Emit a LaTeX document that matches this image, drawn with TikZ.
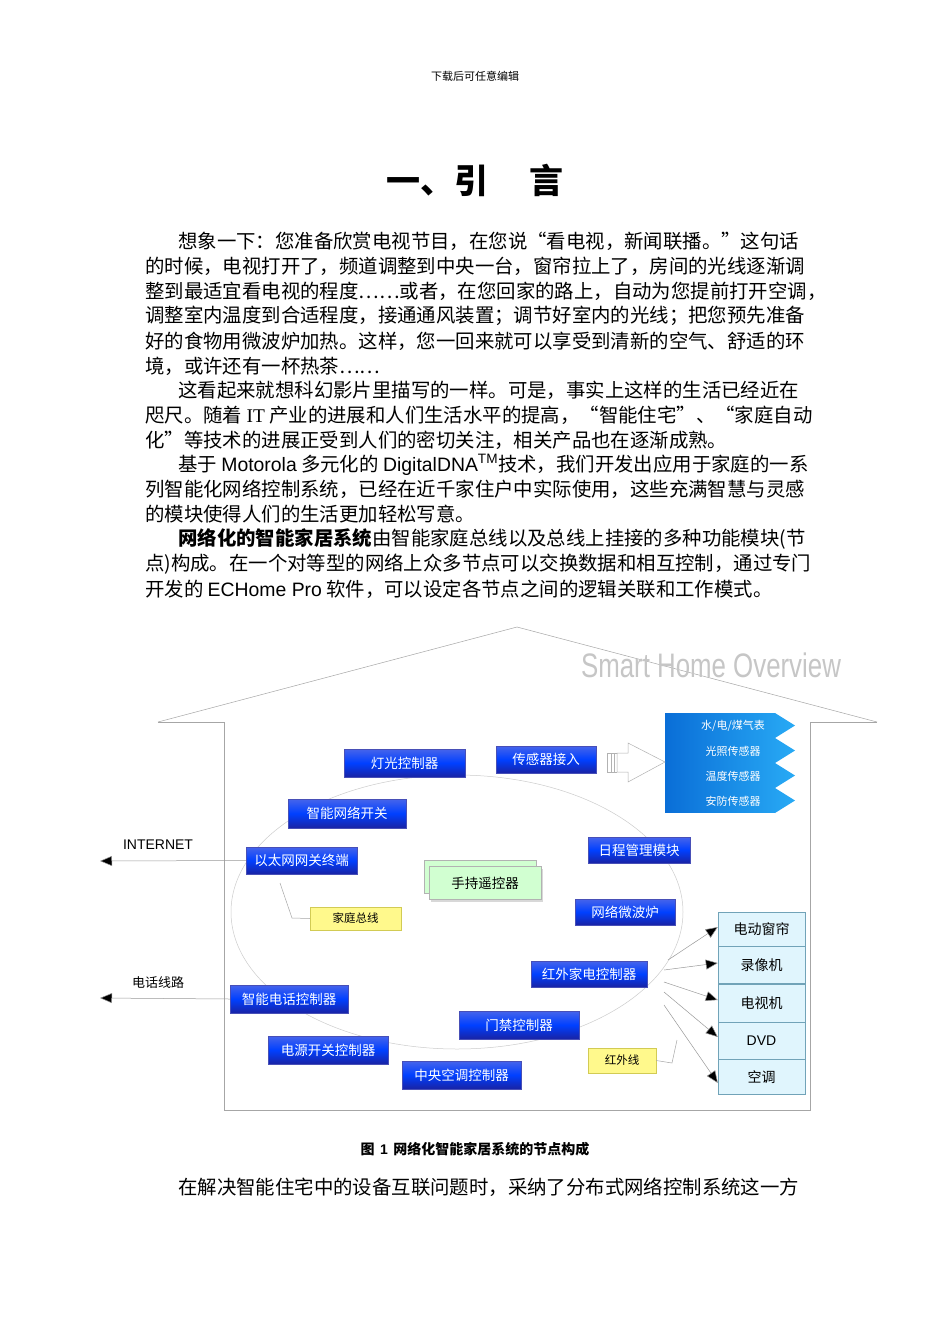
\documentclass[tikz,border=0pt]{standalone}
\usepackage{fontspec}
\setmainfont{Noto Sans CJK SC}
\newfontfamily\lat{Liberation Sans}
\newfontfamily\latserif{Liberation Serif}
\usetikzlibrary{shapes.geometric,arrows.meta,shadows}
\definecolor{bluetop}{RGB}{70,100,235}
\definecolor{bluebot}{RGB}{25,35,165}
\definecolor{sensA}{RGB}{10,110,215}
\definecolor{sensB}{RGB}{40,170,245}
\tikzset{
  bx/.style={rectangle,top color=bluetop,bottom color=bluebot,middle color=blue!75!cyan,text=white,font=\fontsize{13.5}{14}\selectfont,inner sep=0pt,draw=bluebot!80,line width=0.3pt},
  yel/.style={rectangle,fill=yellow!45,draw=yellow!60!gray,font=\fontsize{11.5}{12}\selectfont,inner sep=0pt},
  cell/.style={rectangle,fill=cyan!12,draw=cyan!40!gray,minimum width=87pt,font=\fontsize{14}{15}\selectfont,inner sep=0pt},
  body/.style={anchor=west,font=\fontsize{19.4}{20}\selectfont,inner sep=0pt},
  thin/.style={draw=gray!70,line width=0.5pt},
  arr/.style={draw=gray!80,line width=0.5pt,-{Triangle[length=12pt,width=10pt,fill=black]}},
}
\begin{document}
\begin{tikzpicture}[x=1pt,y=-1pt]
\useasboundingbox (0,0) rectangle (950,1344);
\fill[white] (0,0) rectangle (950,1344);
\node (hdr) at (475,76) {\fontsize{11}{12}\selectfont 下载后可任意编辑};
\node (ttl) at (475,180) {\fontsize{34}{36}\selectfont\bfseries 一、引\hspace{1.2em}言};
\node[body] (l1) at (178,241) {想象一下：您准备欣赏电视节目，在您说“看电视，新闻联播。”这句话};
\node[body] (l2) at (145,266) {的时候，电视打开了，频道调整到中央一台，窗帘拉上了，房间的光线逐渐调};
\node[body] (l3) at (145,291) {整到最适宜看电视的程度……或者，在您回家的路上，自动为您提前打开空调，};
\node[body] (l4) at (145,316) {调整室内温度到合适程度，接通通风装置；调节好室内的光线；把您预先准备};
\node[body] (l5) at (145,341) {好的食物用微波炉加热。这样，您一回来就可以享受到清新的空气、舒适的环};
\node[body] (l6) at (145,366) {境，或许还有一杯热茶……};
\node[body] (l7) at (178,390) {这看起来就想科幻影片里描写的一样。可是，事实上这样的生活已经近在};
\node[body] (l8) at (145,415) {咫尺。随着 {\latserif IT} 产业的进展和人们生活水平的提高，“智能住宅”、“家庭自动};
\node[body] (l9) at (145,440) {化”等技术的进展正受到人们的密切关注，相关产品也在逐渐成熟。};
\node[body] (l10) at (178,465) {基于 {\lat Motorola} 多元化的 {\lat DigitalDNA\textsuperscript{TM}}技术，我们开发出应用于家庭的一系};
\node[body] (l11) at (145,489) {列智能化网络控制系统，已经在近千家住户中实际使用，这些充满智慧与灵感};
\node[body] (l12) at (145,514) {的模块使得人们的生活更加轻松写意。};
\node[body] (l13) at (178,539) {\bfseries 网络化的智能家居系统\mdseries 由智能家庭总线以及总线上挂接的多种功能模块(节};
\node[body] (l14) at (145,564) {点)构成。在一个对等型的网络上众多节点可以交换数据和相互控制，通过专门};
\node[body] (l15) at (145,589) {开发的 {\lat ECHome Pro} 软件，可以设定各节点之间的逻辑关联和工作模式。};

% house
\draw[thin] (158,722) -- (517,627) -- (877,722);
\draw[thin] (158,722) -- (224,722) -- (224,1110) -- (810,1110) -- (810,722) -- (877,722);
\node[text=gray!45,font=\lat\fontsize{34}{34}\selectfont,xscale=0.76] (sho) at (711,665) {Smart Home Overview};

% bus ellipse
\draw[draw=gray!40,line width=0.5pt] (457,912) ellipse [x radius=226, y radius=137];

% sensors
\foreach \y/\t in {713/{水/电/煤气表},738/光照传感器,763/温度传感器,788/安防传感器}{
  \shade[left color=sensA,right color=sensB] (665,\y) -- (775,\y) -- (795,\y+12.5) -- (775,\y+25) -- (665,\y+25) -- cycle;
  \draw[white,line width=0.4pt] (665,\y+25) -- (775,\y+25);
  \node[text=white,font=\fontsize{11}{11}\selectfont] at (733,\y+13) {\t};
}
% hollow arrow
\draw[draw=gray!60,line width=0.5pt,fill=white] (617,753) -- (628,753) -- (628,743) -- (665,762) -- (628,782) -- (628,772) -- (617,772) -- cycle;
\draw[draw=gray!60,line width=0.5pt] (607,753) -- (607,772) (611,753) -- (611,772) (614,753)--(614,772);
\draw[draw=gray!60,line width=0.5pt] (607,753) -- (617,753) (607,772) -- (617,772);

% blue nodes
\node[bx,minimum width=121pt,minimum height=28pt] (dg) at (404.5,763) {灯光控制器};
\node[bx,minimum width=100pt,minimum height=27pt] (cg) at (546,759.5) {传感器接入};
\node[bx,minimum width=118pt,minimum height=29pt] (zn) at (347,813.5) {智能网络开关};
\node[bx,minimum width=111pt,minimum height=27pt] (yt) at (301.5,860.5) {以太网网关终端};
\node[bx,minimum width=102pt,minimum height=26pt] (rc) at (639,850) {日程管理模块};
\node[bx,minimum width=100pt,minimum height=26pt] (wl) at (625,912) {网络微波炉};
\node[bx,minimum width=116pt,minimum height=26pt] (hw) at (589,974) {红外家电控制器};
\node[bx,minimum width=118pt,minimum height=28pt] (dh) at (289,999) {智能电话控制器};
\node[bx,minimum width=120pt,minimum height=28pt] (mj) at (519,1025) {门禁控制器};
\node[bx,minimum width=120pt,minimum height=28pt] (dy) at (328,1050) {电源开关控制器};
\node[bx,minimum width=119pt,minimum height=28pt] (kt) at (461.5,1075) {中央空调控制器};

% handheld
\node[rectangle,fill=green!18,draw=gray!60,minimum width=112pt,minimum height=33pt] (shb) at (480,877) {};
\node[rectangle,fill=green!18,draw=gray!60,minimum width=112pt,minimum height=33pt,drop shadow={shadow xshift=2pt,shadow yshift=-2pt,fill=gray!60},font=\fontsize{13.5}{14}\selectfont] (sc) at (485,883) {手持遥控器};

% yellow notes
\node[yel,minimum width=91pt,minimum height=23pt] (jt) at (355.5,918.5) {家庭总线};
\node[yel,minimum width=68pt,minimum height=25pt] (hx) at (622,1060.5) {红外线};
\coordinate (jta) at (280,883);
\coordinate (jtb) at (292,918);
\draw[thin] (jta) -- (jtb) -- (jt.west);
\coordinate (hxa) at (677,1040);
\coordinate (hxb) at (672,1063);
\draw[thin] (hxa) -- (hxb) -- (hx.east);

% device stack
\node[cell,minimum height=34pt] (c1) at (761.5,929) {电动窗帘};
\node[cell,minimum height=37pt,anchor=north] (c2) at (c1.south) {录像机};
\node[cell,minimum height=38pt,anchor=north] (c3) at (c2.south) {电视机};
\node[cell,minimum height=37pt,anchor=north] (c4) at (c3.south) {\lat DVD};
\node[cell,minimum height=35pt,anchor=north] (c5) at (c4.south) {空调};
\coordinate (s1) at (668,960);
\coordinate (s2) at (664,970);
\coordinate (s3) at (664,982);
\coordinate (s4) at (664,992);
\coordinate (s5) at (664,1005);
\draw[arr] (s1) -- (c1.west |- 0,927);
\draw[arr] (s2) -- (c2.west |- 0,963);
\draw[arr] (s3) -- (c3.west |- 0,1000);
\draw[arr] (s4) -- (c4.west |- 0,1037);
\draw[arr] (s5) -- (c5.west |- 0,1083);

% external lines
\node[font=\lat\fontsize{14}{14}\selectfont] (inet) at (158,845) {INTERNET};
\node[font=\fontsize{13}{14}\selectfont] (tel) at (158,983) {电话线路};
\coordinate (ie) at (100,861);
\coordinate (te) at (100,998);
\draw[arr] (yt.west) -- (ie);
\draw[arr] (dh.west) -- (te);

\node (cap) at (475,1149) {\fontsize{14}{15}\selectfont\bfseries 图\, {\lat 1}\, 网络化智能家居系统的节点构成};
\node[body] (last) at (178,1187) {在解决智能住宅中的设备互联问题时，采纳了分布式网络控制系统这一方};
\end{tikzpicture}
\end{document}
